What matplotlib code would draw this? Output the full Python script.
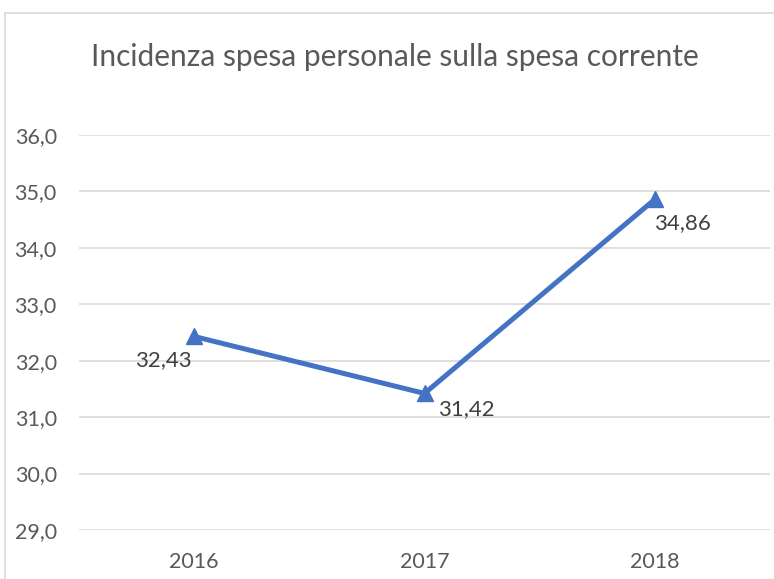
import matplotlib
matplotlib.use("Agg")
import matplotlib.pyplot as plt
from matplotlib.patches import Rectangle
from matplotlib.ticker import FuncFormatter

years = ["2016", "2017", "2018"]
values = [32.43, 31.42, 34.86]
label_offsets = [(-22, -17), (30, -11), (20, -17)]

plt.rcParams["font.family"] = ["Lato", "DejaVu Sans"]

fig = plt.figure(figsize=(7.74, 5.79), dpi=100)
fig.patches.append(Rectangle((5 / 774, -0.1), 1.2, 1.1 - 13 / 579, transform=fig.transFigure,
                             facecolor="white", edgecolor="#D9D9D9", linewidth=1.2, zorder=-1))
ax = fig.add_axes([79 / 774, 1 - 530 / 579, 691 / 774, 395 / 579])
ax.set_facecolor("none")

x = range(len(years))
ax.plot(x, values, color="#4472C4", linewidth=3.6, marker="^", markersize=11, zorder=3)
for xi, v, off in zip(x, values, label_offsets):
    ax.annotate(f"{v:.2f}".replace(".", ","), (xi, v), xytext=off, textcoords="offset points",
                ha="center", va="center", fontsize=16, color="#404040")

ax.set_xlim(-0.5, 2.5)
ax.set_ylim(29, 36)
ax.set_yticks(range(29, 37))
ax.yaxis.set_major_formatter(FuncFormatter(lambda v, p: f"{v:.1f}".replace(".", ",")))
ax.set_xticks(list(x), years)
ax.grid(axis="y", color="#D9D9D9", linewidth=1.2)
ax.set_axisbelow(True)
for s in ax.spines.values():
    s.set_visible(False)
ax.tick_params(length=0, labelsize=15.5, labelcolor="#595959")
ax.tick_params(axis="y", pad=16)
ax.tick_params(axis="x", pad=16)

fig.text(395 / 774, 1 - 57 / 579, "Incidenza spesa personale sulla spesa corrente", ha="center", va="center",
         fontsize=21.5, color="#595959")

fig.savefig("out.png", dpi=100)
